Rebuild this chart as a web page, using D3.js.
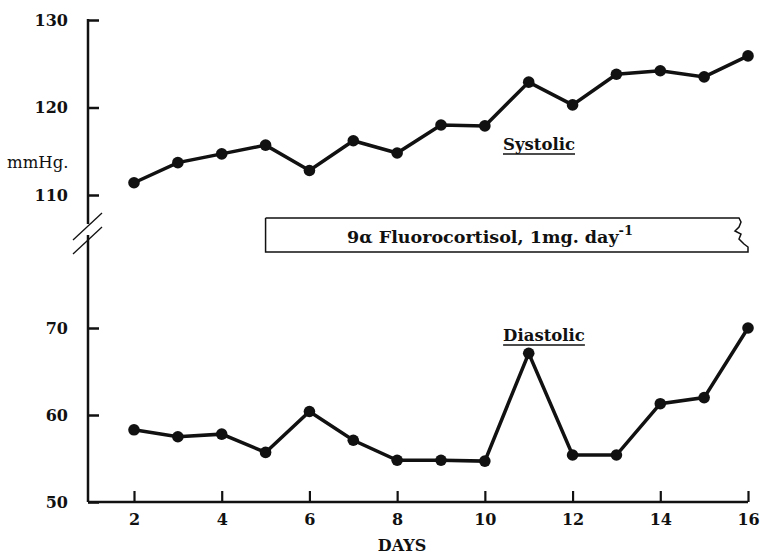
<!DOCTYPE html>
<html>
<head>
<meta charset="utf-8">
<script src="https://cdn.jsdelivr.net/npm/d3@7"></script>
<style>
  body { margin: 0; background: #fff; }
  text { font-family: "DejaVu Serif", "Liberation Serif", serif; fill: #111; }
</style>
</head>
<body>
<div id="chart"></div>
<script>
// data
var days = [2, 3, 4, 5, 6, 7, 8, 9, 10, 11, 12, 13, 14, 15, 16];
var systolic = [111.4, 113.7, 114.7, 115.7, 112.8, 116.2, 114.8, 118.0, 117.9, 122.9, 120.3, 123.8, 124.2, 123.5, 125.9];
var diastolic = [58.3, 57.5, 57.8, 55.7, 60.4, 57.1, 54.8, 54.8, 54.7, 67.1, 55.4, 55.4, 61.3, 62.0, 70.0];
var xTicks = [2, 4, 6, 8, 10, 12, 14, 16];
var upperTicks = [110, 120, 130];
var lowerTicks = [50, 60, 70];
var treatment = { start: 5, end: 16, label: "9\u03b1 Fluorocortisol, 1mg. day" };

var width = 765, height = 556;
var axisX = 88;

var svg = d3.select("#chart")
  .append("svg")
  .attr("width", width)
  .attr("height", height);

// scales
var x = d3.scaleLinear().domain([2, 16]).range([134, 748]);
var yUp = d3.scaleLinear().domain([110, 130]).range([195, 20]);
var yLow = d3.scaleLinear().domain([50, 70]).range([502, 328]);

// upper y axis
var gUp = svg.append("g")
  .attr("transform", "translate(" + axisX + ",0)")
  .call(d3.axisLeft(yUp).tickValues(upperTicks).tickSize(-11).tickPadding(20));

// lower y axis
var gLow = svg.append("g")
  .attr("transform", "translate(" + axisX + ",0)")
  .call(d3.axisLeft(yLow).tickValues(lowerTicks).tickSize(-11).tickPadding(20));

[gUp, gLow].forEach(function (g) {
  g.select(".domain").remove();
  g.selectAll(".tick line").attr("stroke", "#111").attr("stroke-width", 2.5);
  g.selectAll(".tick text")
    .style("font-family", "DejaVu Serif")
    .style("font-size", "16px")
    .style("font-weight", "bold")
    .attr("fill", "#111");
});

// broken y axis line
svg.append("line")
  .attr("x1", axisX).attr("x2", axisX)
  .attr("y1", yUp(130) - 1).attr("y2", 224)
  .attr("stroke", "#111").attr("stroke-width", 2.5);
svg.append("line")
  .attr("x1", axisX).attr("x2", axisX)
  .attr("y1", 235).attr("y2", yLow(50))
  .attr("stroke", "#111").attr("stroke-width", 2.5);

// break marks
[0, 14].forEach(function (dy) {
  svg.append("line")
    .attr("x1", 73).attr("y1", 240 + dy)
    .attr("x2", 102).attr("y2", 213 + dy)
    .attr("stroke", "#111").attr("stroke-width", 1.3);
});

// x axis
var gx = svg.append("g")
  .attr("transform", "translate(0," + yLow(50) + ")")
  .call(d3.axisBottom(x).tickValues(xTicks).tickSize(-11).tickPadding(12));
gx.select(".domain").remove();
gx.selectAll(".tick line").attr("stroke", "#111").attr("stroke-width", 2.2);
gx.selectAll(".tick text")
  .style("font-family", "DejaVu Serif")
  .style("font-size", "16px")
  .style("font-weight", "bold")
  .attr("fill", "#111");
svg.append("line")
  .attr("x1", axisX).attr("x2", x(16))
  .attr("y1", yLow(50)).attr("y2", yLow(50))
  .attr("stroke", "#111").attr("stroke-width", 2.5);

// axis titles
svg.append("text")
  .attr("x", 7).attr("y", 168)
  .style("font-size", "16.5px")
  .text("mmHg.");

svg.append("text")
  .attr("x", 402).attr("y", 551)
  .attr("text-anchor", "middle")
  .style("font-size", "16px")
  .style("font-weight", "bold")
  .text("DAYS");

// lines and points
function drawSeries(values, yScale) {
  var pts = days.map(function (d, i) { return [d, values[i]]; });
  var line = d3.line()
    .x(function (d) { return x(d[0]); })
    .y(function (d) { return yScale(d[1]); });
  svg.append("path")
    .datum(pts)
    .attr("d", line)
    .attr("fill", "none")
    .attr("stroke", "#111")
    .attr("stroke-width", 3.5);
  svg.append("g")
    .selectAll("circle")
    .data(pts)
    .enter()
    .append("circle")
    .attr("cx", function (d) { return x(d[0]); })
    .attr("cy", function (d) { return yScale(d[1]); })
    .attr("r", 5.8)
    .attr("fill", "#111");
}
drawSeries(systolic, yUp);
drawSeries(diastolic, yLow);

// series labels, underlined
function seriesLabel(txt, cx, cy) {
  var t = svg.append("text")
    .attr("x", cx).attr("y", cy)
    .attr("text-anchor", "middle")
    .style("font-size", "16.5px")
    .style("font-weight", "bold")
    .text(txt);
  var bb = t.node().getBBox();
  svg.append("line")
    .attr("x1", bb.x).attr("x2", bb.x + bb.width)
    .attr("y1", cy + 4).attr("y2", cy + 4)
    .attr("stroke", "#111").attr("stroke-width", 1.3);
}
seriesLabel("Systolic", 539, 150);
seriesLabel("Diastolic", 544, 341);

// treatment box with torn right edge
var bx0 = x(treatment.start), bx1 = x(treatment.end);
var by0 = 218, by1 = 252;
var torn = [[bx1 - 9, by0], [bx1 - 7, by0 + 4], [bx1 - 9, by0 + 9], [bx1 - 13, by0 + 13],
  [bx1 - 7, by0 + 16], [bx1 - 9, by0 + 21], [bx1 - 4, by0 + 26], [bx1, by0 + 29], [bx1, by1]];
var boxPts = [[bx0, by0]].concat(torn).concat([[bx0, by1], [bx0, by0]]);
svg.append("path")
  .attr("d", d3.line()(boxPts))
  .attr("fill", "none")
  .attr("stroke", "#111")
  .attr("stroke-width", 1.5);

var lab = svg.append("text")
  .attr("x", 490).attr("y", 243)
  .attr("text-anchor", "middle")
  .style("font-size", "17.5px")
  .style("font-weight", "bold");
lab.append("tspan").text(treatment.label);
lab.append("tspan")
  .attr("dy", -8)
  .style("font-size", "13px")
  .text("-1");
</script>
</body>
</html>
